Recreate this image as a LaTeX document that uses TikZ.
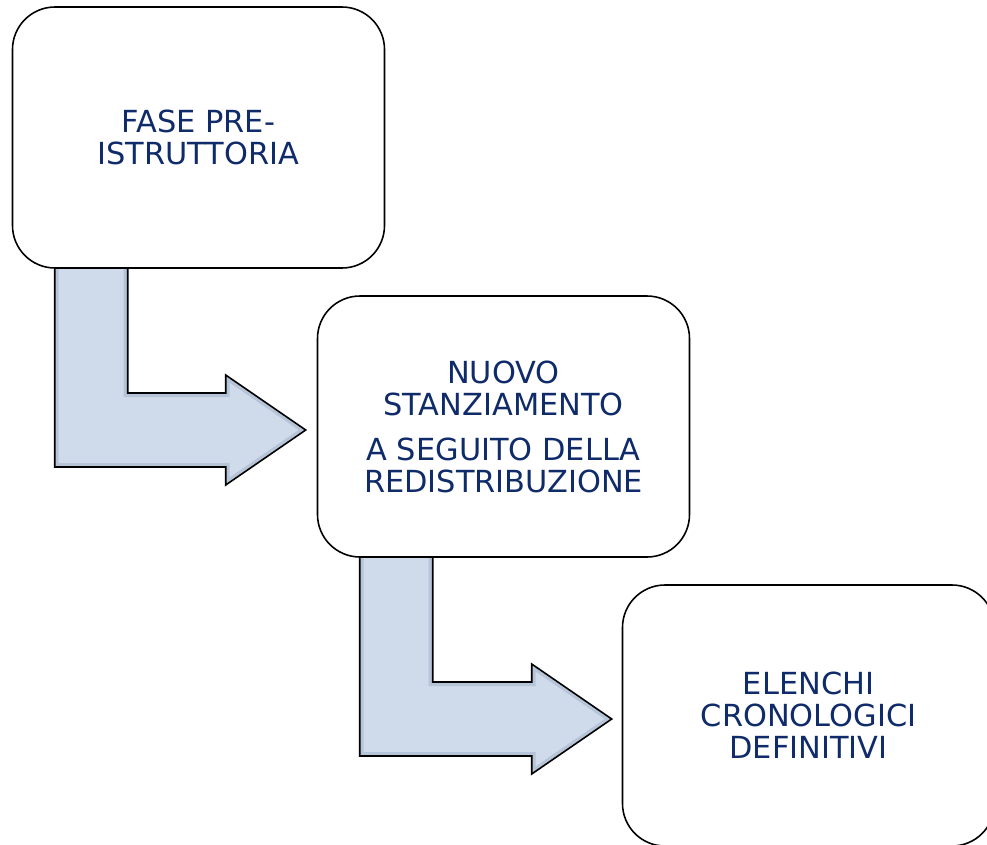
\documentclass[tikz,border=0pt]{standalone}
\usepackage{fontspec}
\setmainfont{DejaVu Sans}
\usetikzlibrary{calc,backgrounds}
\definecolor{navytext}{RGB}{16,43,106}
\definecolor{arrowfill}{RGB}{207,219,235}
\definecolor{arrowedge}{RGB}{182,196,215}
\tikzset{
  stepbox/.style={draw=black, line width=0.9pt, fill=white, rounded corners=0.85cm,
    minimum width=7.44cm, minimum height=5.22cm, align=center, text=navytext,
    font=\fontsize{17.3}{18.2}\selectfont},
  bentarrow/.style={draw=black, line width=0.9pt}
}
\begin{document}
\begin{tikzpicture}
\useasboundingbox (0,0) rectangle (19.74,-16.88);
\clip (0,0) rectangle (19.74,-16.88);

%BOXES
  \node (pre) at (3.97,-2.75) [stepbox] {FASE PRE-\\ISTRUTTORIA};
  \node (redis) at (10.07,-8.53) [stepbox] {NUOVO\\STANZIAMENTO\\[0.26cm]A SEGUITO DELLA\\REDISTRIBUZIONE};
  \node (elenchi) at (16.17,-14.31) [stepbox] {ELENCHI\\CRONOLOGICI\\DEFINITIVI};

%ARROWS
\begin{scope}[on background layer]
  \coordinate (c1) at ($(pre.south west)+(0.86,0.1)$);
  \coordinate (t1) at ($(redis.west)+(-0.22,-0.07)$);
  \coordinate (c2) at ($(redis.south west)+(0.86,0.1)$);
  \coordinate (t2) at ($(elenchi.west)+(-0.2,-0.07)$);
  \path[save path=\arrA] (c1) -- ($(c1 |- t1)+(0,-0.74)$) -- ($(t1)+(-1.6,-0.74)$) -- ($(t1)+(-1.6,-1.1)$) -- (t1)
    -- ($(t1)+(-1.6,1.1)$) -- ($(t1)+(-1.6,0.74)$) -- ($(c1 |- t1)+(1.46,0.74)$) -- ($(c1)+(1.46,0)$) -- cycle;
  \path[save path=\arrB] (c2) -- ($(c2 |- t2)+(0,-0.74)$) -- ($(t2)+(-1.6,-0.74)$) -- ($(t2)+(-1.6,-1.1)$) -- (t2)
    -- ($(t2)+(-1.6,1.1)$) -- ($(t2)+(-1.6,0.74)$) -- ($(c2 |- t2)+(1.46,0.74)$) -- ($(c2)+(1.46,0)$) -- cycle;
  \fill[arrowfill, use path=\arrA];
  \fill[arrowfill, use path=\arrB];
  \begin{scope}
    \clip[use path=\arrA];
    \draw[arrowedge, line width=0.16cm, use path=\arrA];
  \end{scope}
  \begin{scope}
    \clip[use path=\arrB];
    \draw[arrowedge, line width=0.16cm, use path=\arrB];
  \end{scope}
  \draw[bentarrow, use path=\arrA];
  \draw[bentarrow, use path=\arrB];
\end{scope}
\end{tikzpicture}
\end{document}
